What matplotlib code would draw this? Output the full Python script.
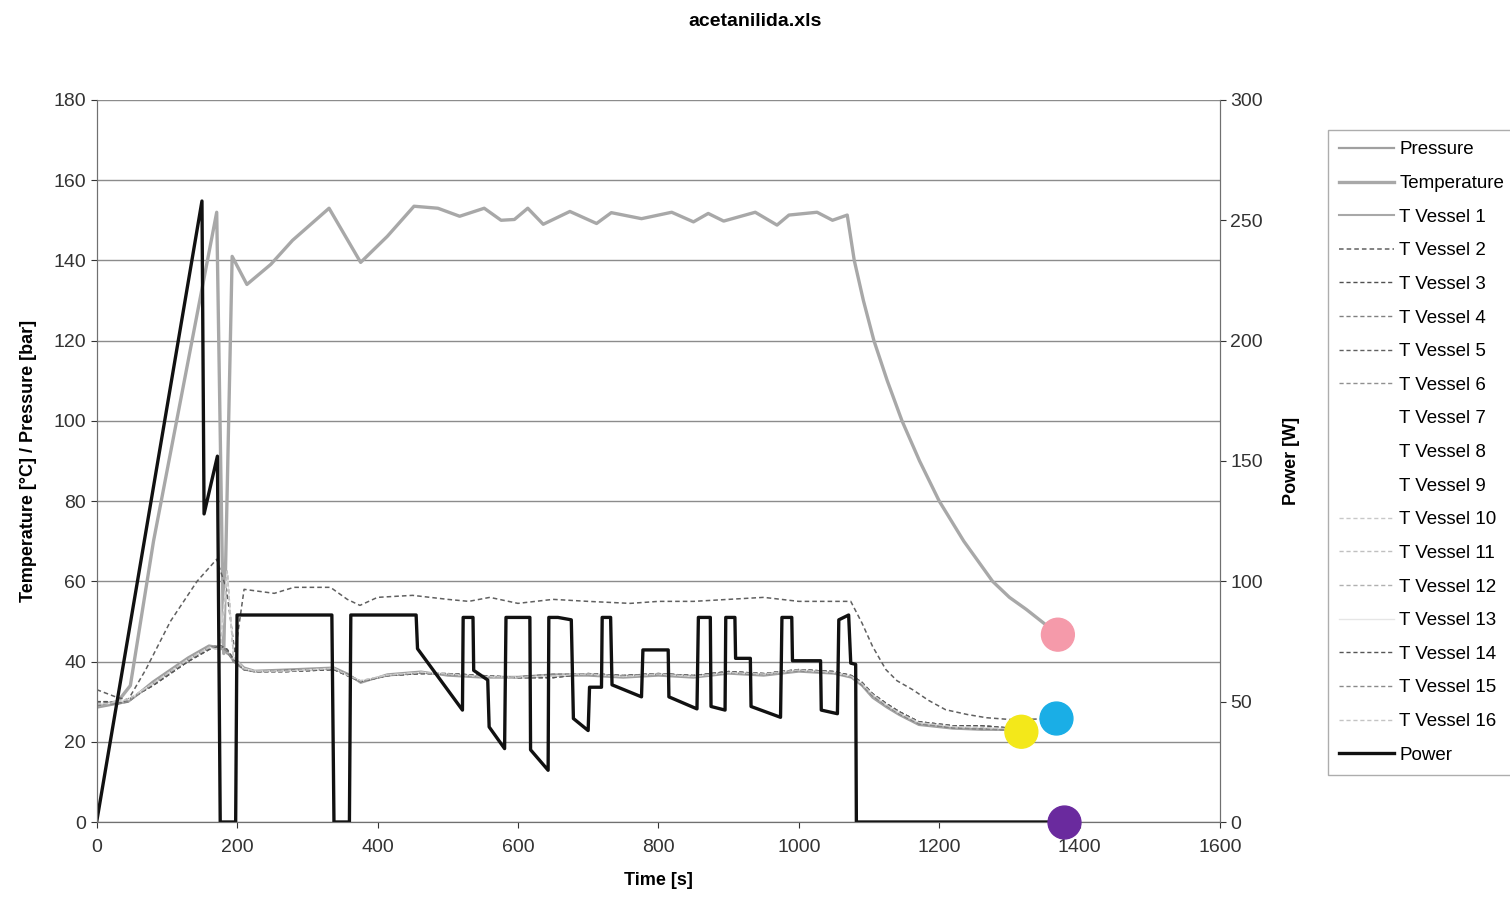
import numpy as np
import matplotlib
matplotlib.use('Agg')
import matplotlib.pyplot as plt

plt.rcParams['font.family'] = ['Liberation Sans', 'DejaVu Sans']

# Temperature (gray line that peaks near 150)
t_temp = [0, 30, 48, 81, 171, 181, 193, 214, 248, 279, 331, 376, 414, 452, 486, 517, 552, 576, 595, 614,
          636, 674, 712, 733, 776, 819, 850, 871, 893, 938, 969, 986, 1026, 1048, 1069, 1079, 1092, 1107,
          1126, 1147, 1172, 1200, 1235, 1276, 1300, 1324, 1353, 1369]
temp = [29, 30, 34, 70, 152, 42, 141, 134, 139, 145, 153, 139.5, 146, 153.5, 153, 151, 153, 150, 150.2, 153,
        149, 152.2, 149.2, 151.9, 150.4, 152, 149.6, 151.7, 149.8, 152, 148.8, 151.3, 152, 150, 151.3, 140,
        130, 120, 110, 100, 90, 80, 70, 60, 56, 53, 49, 46.7]

# upper dashed vessel (~55)
t_up = [0, 15, 30, 45, 70, 105, 143, 171, 185, 197, 210, 253, 281, 333, 357, 375, 400, 450, 500, 530,
        560, 600, 650, 700, 760, 800, 850, 900, 950, 1000, 1050, 1074, 1090, 1105, 1124, 1140, 1162, 1185,
        1209, 1240, 1267, 1305, 1367]
v_up = [33, 32, 31, 30.5, 38, 50, 60, 65.5, 58, 42, 58, 57, 58.5, 58.5, 55.5, 54, 56, 56.5, 55.5, 55,
        56, 54.5, 55.5, 55, 54.5, 55, 55, 55.5, 56, 55, 55, 55, 49.6, 43.8, 38, 35.2, 33, 30.3,
        28, 26.8, 26, 25.5, 25.8]

# lower band (~37)
t_low = [0, 15, 30, 45, 80, 130, 160, 176, 186, 195, 210, 225, 270, 338, 357, 376, 414, 462, 500, 550,
         600, 650, 700, 750, 800, 850, 900, 950, 1000, 1050, 1075, 1090, 1105, 1125, 1143, 1171, 1219, 1260,
         1295, 1317]
pressure = [28.5, 29, 29.5, 30, 35, 41, 44, 43.5, 42, 41, 38.5, 37.7, 38, 38.5, 37, 34.7, 36.8, 37.5, 36.5, 36,
            36, 36.5, 36.5, 36, 36.5, 36, 37, 36.5, 37.5, 37, 36, 34, 31, 28.6, 26.7, 24.2, 23.3, 23,
            23, 22.5]
v_1 = [29, 29.5, 29.5, 30, 34.5, 40.5, 43.5, 44, 42.5, 40, 38, 37.5, 37.8, 38.2, 36.8, 35, 36.5, 37.2, 36.8, 36.2,
       36.2, 36.8, 36.8, 36.4, 36.8, 36.4, 37.2, 36.8, 37.8, 37.2, 36.2, 34.2, 31.5, 29, 27, 24.5, 23.5, 23.2,
       23, 22.8]
v_low = [30, 30, 29.5, 30.5, 34, 40, 43, 44, 43, 40.5, 38, 37.5, 37.5, 38, 36.5, 35, 36.5, 37, 37, 36.5,
         36, 36, 37, 36.5, 37, 36.5, 37.5, 37, 38, 37.5, 36.5, 34.8, 32, 29.5, 27.5, 25, 24, 24,
         23.5, 23]
v_faint = [29.5, 29.5, 30, 30.5, 34.5, 40.5, 43.5, 43, 62.5, 41, 38.2, 37.6, 37.6, 38.3, 36.6, 35.2, 36.6, 37.3, 36.9, 36.3,
           36.1, 36.4, 36.9, 36.3, 36.9, 36.3, 37.3, 36.9, 37.9, 37.3, 36.3, 34.5, 31.8, 29.2, 27.2, 24.8, 23.8, 23.6,
           23.3, 22.9]

# Power [W]
t_power = [0, 150, 153, 172, 176, 198, 200, 335, 338, 360, 362, 455, 457, 521, 522, 536, 537, 557, 559, 581,
           583, 617, 618, 643, 644, 657, 676, 679, 700, 702, 719, 720, 732, 734, 776, 778, 814, 815, 855, 857,
           874, 875, 895, 896, 909, 910, 931, 932, 974, 976, 990, 991, 1031, 1032, 1055, 1057, 1071, 1074,
           1081, 1082, 1378]
power = [0, 258, 128, 152, 0, 0, 86, 86, 0, 0, 86, 86, 72, 46.5, 85, 85, 63, 59, 39.5, 30.5,
         85, 85, 30, 21.5, 85, 85, 84, 43, 38, 56, 56, 85, 85, 57, 52, 71.5, 71.5, 52, 47, 85,
         85, 48, 46.5, 85, 85, 68, 68, 48, 43.5, 85, 85, 67, 67, 46.5, 45, 84, 86, 66, 65.5, 0, 0]

# end markers
dot_t = [1369, 1367, 1317]
dot_v = [46.7, 25.8, 22.5]
dot_c = ['#f59aaa', '#1aaee6', '#f3e81a']
purple_t, purple_p = 1378, 0

fig = plt.figure(figsize=(15.1, 8.97), dpi=100)
ax = fig.add_axes([0.064, 0.0836, 0.744, 0.805])
ax2 = ax.twinx()

dash = (0, (3, 2))
h = {}
h['Pressure'], = ax.plot(t_low, pressure, color='#a0a0a0', lw=1.6)
h['Temperature'], = ax.plot(t_temp, temp, color='#a8a8a8', lw=2.4)
h['T Vessel 1'], = ax.plot(t_low, v_1, color='#a8a8a8', lw=1.5)
h['T Vessel 2'], = ax.plot(t_up, v_up, color='#606060', lw=1.1, ls=dash)
h['T Vessel 3'], = ax.plot(t_low, v_low, color='#505050', lw=1.0, ls=dash)
h['T Vessel 4'], = ax.plot(t_low, v_low, color='#808080', lw=1.0, ls=dash)
h['T Vessel 5'], = ax.plot(t_low, v_1, color='#606060', lw=1.0, ls=dash)
h['T Vessel 6'], = ax.plot(t_low, v_low, color='#909090', lw=1.0, ls=dash)
h['T Vessel 7'], = ax.plot(t_low, v_faint, color='white', lw=0.5, alpha=0.0)
h['T Vessel 8'], = ax.plot(t_low, v_faint, color='white', lw=0.5, alpha=0.0)
h['T Vessel 9'], = ax.plot(t_low, v_faint, color='white', lw=0.5, alpha=0.0)
h['T Vessel 10'], = ax.plot(t_low, v_faint, color='#c8c8c8', lw=1.0, ls=dash)
h['T Vessel 11'], = ax.plot(t_low, v_faint, color='#c0c0c0', lw=1.0, ls=dash)
h['T Vessel 12'], = ax.plot(t_low, v_faint, color='#b0b0b0', lw=1.0, ls=dash)
h['T Vessel 13'], = ax.plot(t_low, v_faint, color='#e6e6e6', lw=1.0)
h['T Vessel 14'], = ax.plot(t_low, v_low, color='#555555', lw=1.0, ls=dash)
h['T Vessel 15'], = ax.plot(t_low, v_1, color='#8a8a8a', lw=1.0, ls=dash)
h['T Vessel 16'], = ax.plot(t_low, v_faint, color='#c4c4c4', lw=1.0, ls=dash)
h['Power'], = ax2.plot(t_power, power, color='#111111', lw=2.4)

ax.scatter(dot_t, dot_v, s=560, c=dot_c, zorder=5, clip_on=False)
ax2.scatter([purple_t], [purple_p], s=560, c='#6a2a9e', zorder=5, clip_on=False)

ax.set_xlim(0, 1600)
ax.set_ylim(0, 180)
ax2.set_ylim(0, 300)
ax.set_xticks(np.arange(0, 1601, 200))
ax.set_yticks(np.arange(0, 181, 20))
ax2.set_yticks(np.arange(0, 301, 50))
ax.grid(axis='y', color='#8c8c8c', lw=1.0)
ax.set_axisbelow(True)

for a in (ax, ax2):
    for s in a.spines.values():
        s.set_color('#707070')
    a.tick_params(labelsize=14, colors='#333333', length=4)
ax.tick_params(axis='x', pad=8)
ax.spines['top'].set_visible(False)
ax2.spines['top'].set_visible(False)

ax.set_xlabel('Time [s]', fontsize=13, fontweight='bold', labelpad=12)
ax.set_ylabel('Temperature [°C] / Pressure [bar]', fontsize=13, fontweight='bold', labelpad=12)
ax2.set_ylabel('Power [W]', fontsize=13, fontweight='bold', labelpad=14)
fig.suptitle('acetanilida.xls', fontsize=14, fontweight='bold', y=0.985)

names = list(h.keys())
leg = fig.legend([h[n] for n in names], names, loc='upper left',
                 bbox_to_anchor=(0.8795, 0.855), fontsize=13.5, frameon=True,
                 fancybox=False, edgecolor='#999999', handlelength=2.9,
                 handletextpad=0.3, labelspacing=0.88, borderpad=0.6,
                 borderaxespad=0)
leg.get_frame().set_linewidth(1.0)

plt.savefig('out.png', dpi=100)
